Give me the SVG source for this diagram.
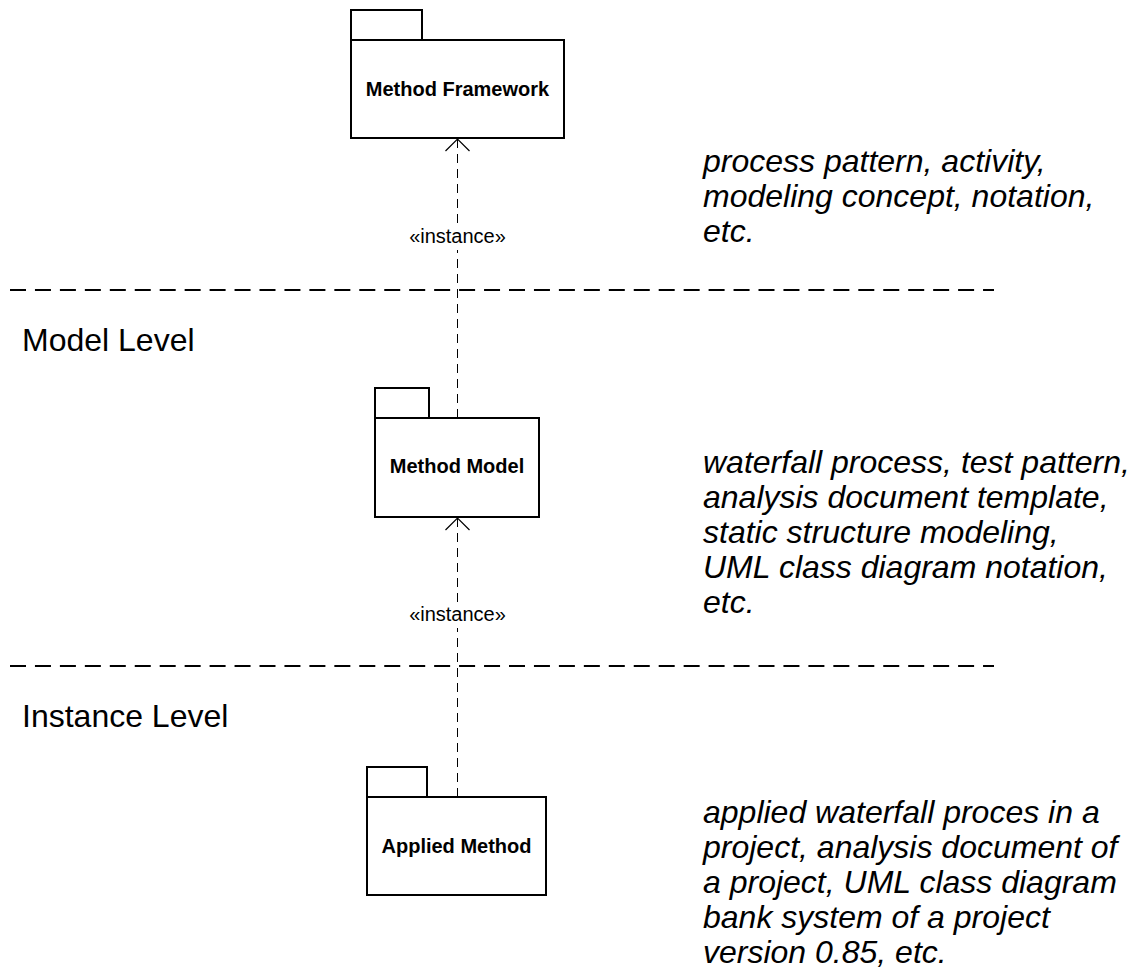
<svg xmlns="http://www.w3.org/2000/svg" width="1133" height="976" viewBox="0 0 1133 976">
  <defs>
    <style>
      .pkg { fill: #ffffff; stroke: #000000; stroke-width: 2; }
      .pkg-label { font-family: "Liberation Sans", Arial, sans-serif; font-size: 20px; font-weight: bold; fill: #000000; text-anchor: middle; }
      .dep { fill: none; stroke: #000000; stroke-width: 1; stroke-dasharray: 9 6; }
      .head { fill: none; stroke: #000000; stroke-width: 1.2; }
      .stereo { font-family: "Liberation Sans", Arial, sans-serif; font-size: 20px; fill: #000000; text-anchor: middle; }
      .level-sep { stroke: #000000; stroke-width: 2; stroke-dasharray: 16 8.95; fill: none; }
      .level { font-family: "Liberation Sans", Arial, sans-serif; font-size: 32px; fill: #000000; }
      .note { font-family: "Liberation Sans", Arial, sans-serif; font-size: 32px; font-style: italic; fill: #000000; }
    </style>
  </defs>

  <rect width="1133" height="976" fill="#ffffff"/>

  <!-- level separators -->
  <g id="separators">
    <line class="level-sep" x1="10" y1="290" x2="994" y2="290"/>
    <line class="level-sep" x1="10" y1="666" x2="994" y2="666"/>
  </g>

  <!-- level titles -->
  <g id="level-titles">
    <text class="level" x="22" y="351">Model Level</text>
    <text class="level" x="22" y="727">Instance Level</text>
  </g>

  <!-- instance dependencies -->
  <g id="connectors">
    <line class="dep" x1="457.5" y1="418" x2="457.5" y2="139"/>
    <polyline class="head" points="445.5,151 457.5,139 469.5,151"/>
    <rect x="406" y="226" width="103" height="24" fill="#ffffff"/>
    <text class="stereo" x="457.5" y="243">«instance»</text>

    <line class="dep" x1="457.5" y1="797" x2="457.5" y2="518"/>
    <polyline class="head" points="445.5,530 457.5,518 469.5,530"/>
    <rect x="406" y="604" width="103" height="24" fill="#ffffff"/>
    <text class="stereo" x="457.5" y="621">«instance»</text>
  </g>

  <!-- packages -->
  <g id="method-framework">
    <rect class="pkg" x="351" y="10" width="71" height="30"/>
    <rect class="pkg" x="351" y="40" width="213" height="98"/>
    <text class="pkg-label" x="457.5" y="96">Method Framework</text>
  </g>

  <g id="method-model">
    <rect class="pkg" x="375" y="388" width="54" height="30"/>
    <rect class="pkg" x="375" y="418" width="164" height="99"/>
    <text class="pkg-label" x="457" y="473">Method Model</text>
  </g>

  <g id="applied-method">
    <rect class="pkg" x="367" y="767" width="60" height="30"/>
    <rect class="pkg" x="367" y="797" width="179" height="98"/>
    <text class="pkg-label" x="456.5" y="853">Applied Method</text>
  </g>

  <!-- example notes -->
  <g id="note-framework">
    <text class="note" x="703" y="172">process pattern, activity,</text>
    <text class="note" x="703" y="207">modeling concept, notation,</text>
    <text class="note" x="703" y="242">etc.</text>
  </g>

  <g id="note-model">
    <text class="note" x="703" y="473">waterfall process, test pattern,</text>
    <text class="note" x="703" y="508">analysis document template,</text>
    <text class="note" x="703" y="543">static structure modeling,</text>
    <text class="note" x="703" y="578">UML class diagram notation,</text>
    <text class="note" x="703" y="613">etc.</text>
  </g>

  <g id="note-instance">
    <text class="note" x="703" y="823">applied waterfall proces in a</text>
    <text class="note" x="703" y="858">project, analysis document of</text>
    <text class="note" x="703" y="893">a project, UML class diagram</text>
    <text class="note" x="703" y="928">bank system of a project</text>
    <text class="note" x="703" y="963">version 0.85, etc.</text>
  </g>
</svg>
